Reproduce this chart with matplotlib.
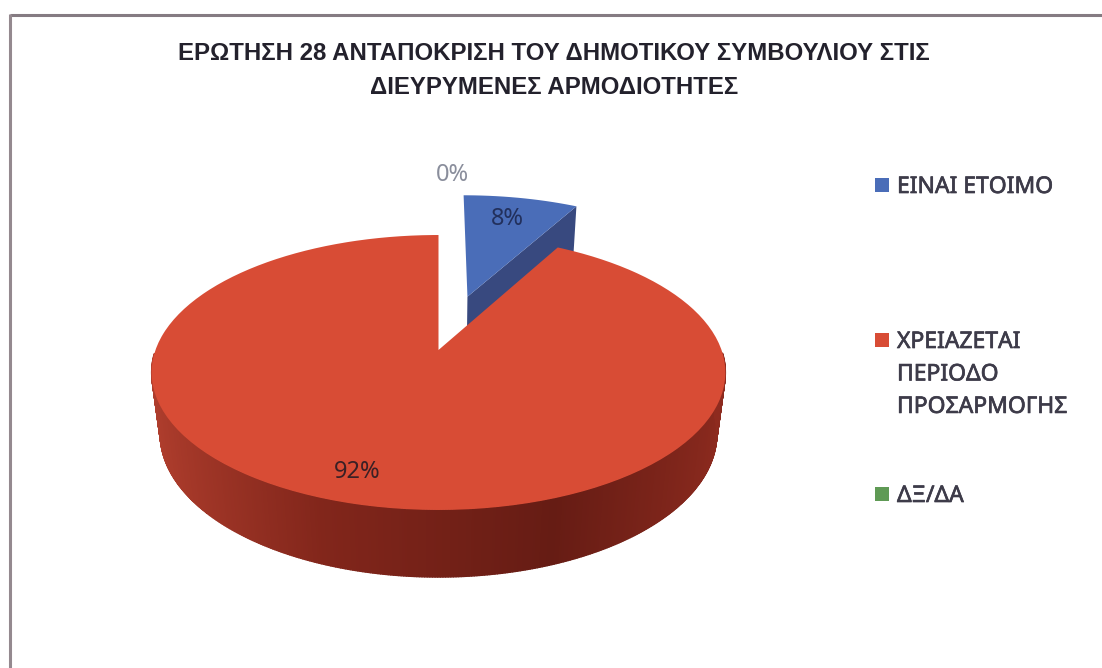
import numpy as np
import matplotlib
matplotlib.use("Agg")
import matplotlib.pyplot as plt
import matplotlib.patheffects as pe
from matplotlib.collections import PolyCollection
from matplotlib.colors import to_rgb
from matplotlib.patches import Rectangle
from matplotlib.path import Path
from matplotlib.transforms import Affine2D, Transform

title_lines = ["ΕΡΩΤΗΣΗ 28 ΑΝΤΑΠΟΚΡΙΣΗ ΤΟΥ ΔΗΜΟΤΙΚΟΥ ΣΥΜΒΟΥΛΙΟΥ ΣΤΙΣ",
               "ΔΙΕΥΡΥΜΕΝΕΣ ΑΡΜΟΔΙΟΤΗΤΕΣ"]
categories = ["ΕΙΝΑΙ ΕΤΟΙΜΟ", "ΧΡΕΙΑΖΕΤΑΙ\nΠΕΡΙΟΔΟ\nΠΡΟΣΑΡΜΟΓΗΣ", "ΔΞ/ΔΑ"]
values = [8, 92, 0]
explode = [0.44, 0, 0]
top_colors = ["#4a6db8", "#d84c35", "#5f9a55"]

FONT = "Noto Sans"
INK = "#23212c"

# Projection of the pie plane to pixel space, with a slight perspective
CX, CY, RX, A, K = 438.5, 350.0, 283.0, 133.8, 0.1636
LOWER_M, LOWER_D = 0.03, 62.9


class PiePlane(Transform):
    input_dims = output_dims = 2
    is_separable = False
    has_inverse = False

    def __init__(self, m=0.0, d=0.0):
        super().__init__()
        self.m, self.d = m, d

    def transform_non_affine(self, values):
        v = np.asarray(values, float)
        w = 1 + K * v[:, 1] + self.m
        return np.column_stack([CX + RX * v[:, 0] / w,
                                CY + (-A * v[:, 1] + self.d) / w])

    def transform_path_non_affine(self, path):
        polys = path.transformed(Affine2D().scale(400)).to_polygons(closed_only=False)
        polys = [p for p in polys if len(p)]
        if not polys:
            return Path(np.zeros((1, 2)))
        return Path(self.transform_non_affine(np.vstack(polys) / 400))


plt.rcParams["font.family"] = [FONT, "DejaVu Sans"]
fig = plt.figure(figsize=(11.02, 6.68), dpi=100, facecolor="white")
ax = fig.add_axes([0, 0, 1, 1])

wedges, _ = ax.pie(values, explode=explode, colors=top_colors, startangle=90,
                   counterclock=False, radius=1, wedgeprops={"linewidth": 0})
ax.set_aspect("auto")
ax.set_xlim(0, 1102)
ax.set_ylim(668, 0)
ax.axis("off")

upper = PiePlane()
lower = PiePlane(LOWER_M, LOWER_D)
for w, z in zip(wedges, (2, 4, 2)):
    w.set_transform(upper + ax.transData)
    w.set_zorder(z)


def ring(w, theta):
    t = np.radians(theta)
    return np.column_stack([w.center[0] + w.r * np.cos(t), w.center[1] + w.r * np.sin(t)])


# Blue: dark cut face along its clockwise radial edge
blue = wedges[0]
edge = np.vstack([blue.center, ring(blue, np.array([blue.theta1]))])
cut = np.vstack([upper.transform_non_affine(edge),
                 lower.transform_non_affine(edge)[::-1]])
ax.fill(cut[:, 0], cut[:, 1], color="#38497f", lw=0, zorder=1)

# Red: rim between the upper and lower discs (front part only, the back is hidden)
red = wedges[1]
theta = np.linspace(red.theta1, red.theta2, 721)
pts = ring(red, theta)
front = pts[:, 1] < -0.02
pts = pts[front]
top, bot = upper.transform_non_affine(pts), lower.transform_non_affine(pts)
quads = [[top[i], top[i + 1], bot[i + 1], bot[i]] for i in range(len(pts) - 1)]
mid_x = (pts[:-1, 0] + pts[1:, 0]) / 2
stops_x = [-1, -0.35, 0.35, 1]
stops_c = np.array([to_rgb(c) for c in ("#b23f2e", "#82261b", "#661c14", "#8e2b1f")])
shade = np.column_stack([np.interp(mid_x, stops_x, stops_c[:, i]) for i in range(3)])
ax.add_collection(PolyCollection(quads, facecolors=shade, edgecolors=shade,
                                 linewidths=1.0, zorder=3), autolim=False)

# Value labels
label_xy = [(507, 219), (357, 472), (452, 175)]
label_col = ["#22305c", "#3a2025", "#8a8e9c"]
for v, (x, y), c in zip(values, label_xy, label_col):
    ax.text(x, y, f"{v}%", ha="center", va="center", fontsize=17, color=c, zorder=6)

# Title
for line, y in zip(title_lines, (53, 87)):
    ax.text(554, y, line, ha="center", va="center", fontsize=17.3,
            family=["Liberation Sans", "DejaVu Sans"], fontweight="bold",
            color=INK, zorder=6)

# Legend
for cat, col, y in zip(categories, top_colors, (185, 340, 494)):
    ax.add_patch(Rectangle((875, y - 7), 14, 14, facecolor=col, edgecolor="none", zorder=6))
    ax.text(897, y - 10, cat, ha="left", va="top", fontsize=16.5, linespacing=1.47,
            color="#3d3b49", zorder=6,
            path_effects=[pe.withStroke(linewidth=0.5, foreground="#3d3b49")])

# Frame remains along the top and left of the scan
ax.plot([10, 1102], [15, 15], color="#857b82", lw=2.2, solid_capstyle="butt", zorder=7)
ax.plot([10, 10], [14, 668], color="#94898f", lw=2.2, solid_capstyle="butt", zorder=7)

fig.savefig("out.png", dpi=100)
